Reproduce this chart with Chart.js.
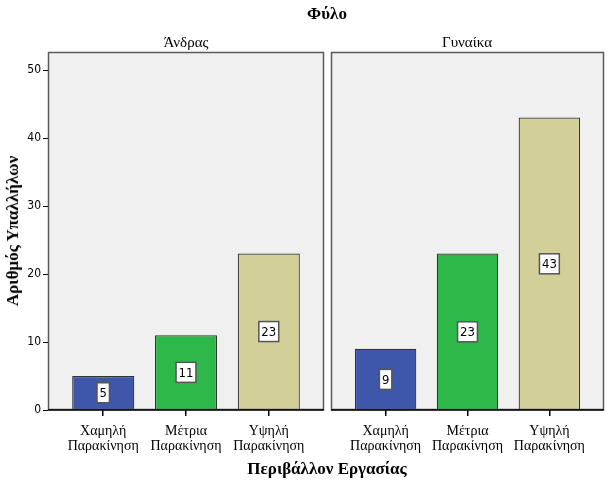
<!DOCTYPE html>
<html><head><meta charset="utf-8">
<script src="https://cdn.jsdelivr.net/npm/chart.js@4.4.0/dist/chart.umd.min.js"></script>
<style>
html,body{margin:0;padding:0;background:#fff;}
#wrap{position:relative;width:614px;height:486px;overflow:hidden;font-family:"Liberation Serif","Times New Roman",serif;color:#000;}
.t{position:absolute;white-space:nowrap;transform:translate(-50%,-50%);}
canvas{position:absolute;top:0;}
</style></head>
<body><div id="wrap">
<canvas id="c1" width="326" height="486" style="left:0;width:326px;height:486px"></canvas>
<canvas id="c2" width="285" height="486" style="left:329px;width:285px;height:486px"></canvas>
<div class="t" style="left:327px;top:14px;font-weight:bold;font-size:17px">Φύλο</div>
<div class="t" style="left:186px;top:42px;font-size:15px">Άνδρας</div>
<div class="t" style="left:467px;top:42px;font-size:15px">Γυναίκα</div>
<div class="t" style="left:327px;top:469px;font-weight:bold;font-size:17px">Περιβάλλον Εργασίας</div>
<div class="t" style="left:13px;top:231px;font-weight:bold;font-size:17px;transform:translate(-50%,-50%) rotate(-90deg)">Αριθμός Υπαλλήλων</div>
</div>
<script>
const categories = [["Χαμηλή","Παρακίνηση"],["Μέτρια","Παρακίνηση"],["Υψηλή","Παρακίνηση"]];
const panels = ["Άνδρας","Γυναίκα"];
const valuesMen = [5, 11, 23];
const valuesWomen = [9, 23, 43];
const yTicks = [0, 10, 20, 30, 40, 50];
const barColors = ["#3e57ab", "#2fb84a", "#d3cf98"];

const panelPlugin = {
  id: 'panel',
  beforeDraw(chart) {
    const a = chart.chartArea, ctx = chart.ctx;
    ctx.save();
    ctx.fillStyle = '#f0f0f0';
    ctx.fillRect(a.left, a.top, a.right - a.left, a.bottom - a.top);
    ctx.restore();
  },
  afterDraw(chart) {
    const a = chart.chartArea, ctx = chart.ctx;
    ctx.save();
    ctx.strokeStyle = '#5a5a5a';
    ctx.lineWidth = 1.5;
    ctx.strokeRect(a.left + 0.5, a.top + 0.5, a.right - a.left - 1, a.bottom - a.top - 1);
    ctx.strokeStyle = '#000';
    ctx.lineWidth = 1.5;
    ctx.beginPath();
    ctx.moveTo(a.left, a.bottom);
    ctx.lineTo(a.right, a.bottom);
    ctx.stroke();
    ctx.restore();
  },
  afterDatasetsDraw(chart) {
    const ctx = chart.ctx;
    const meta = chart.getDatasetMeta(0);
    const ds = chart.data.datasets[0];
    ctx.save();
    ctx.font = '13px "Liberation Sans Narrow","DejaVu Sans Condensed",sans-serif';
    ctx.textAlign = 'center';
    ctx.textBaseline = 'middle';
    meta.data.forEach((bar, i) => {
      const txt = String(ds.data[i].y);
      const cy = (bar.y + bar.base) / 2;
      const w = ctx.measureText(txt).width + 5;
      const h = 20;
      ctx.fillStyle = '#fff';
      ctx.fillRect(bar.x - w / 2, cy - h / 2, w, h);
      ctx.strokeStyle = '#555';
      ctx.lineWidth = 1.5;
      ctx.strokeRect(bar.x - w / 2, cy - h / 2, w, h);
      ctx.fillStyle = '#000';
      ctx.fillText(txt, bar.x, cy + 1);
    });
    ctx.restore();
  }
};

function makeChart(id, values, showY) {
  const data = values.map((v, i) => ({x: i, y: v}));
  return new Chart(document.getElementById(id), {
    type: 'bar',
    data: {
      datasets: [{
        data: data,
        backgroundColor: barColors,
        borderColor: '#333',
        borderWidth: 1.2,
        barPercentage: 0.75,
        categoryPercentage: 1
      }]
    },
    options: {
      responsive: false,
      animation: false,
      events: [],
      layout: {padding: {top: 52, right: showY ? 2 : 10, left: showY ? 0 : 2, bottom: 0}},
      plugins: {legend: {display: false}, tooltip: {enabled: false}},
      scales: {
        x: {
          type: 'linear',
          offset: false,
          min: -0.667,
          max: 2.667,
          afterBuildTicks(s) { s.ticks = categories.map((c, i) => ({value: i})); },
          afterFit(s) { s.height = 76; },
          grid: {display: true, offset: false, drawOnChartArea: false, color: '#000', tickLength: 6, lineWidth: 1.5},
          border: {display: false},
          ticks: {
            autoSkip: false,
            maxRotation: 0,
            padding: 8,
            color: '#000',
            font: {family: '"Liberation Serif","Times New Roman",serif', size: 14, lineHeight: 1.05},
            callback: (v) => categories[v]
          }
        },
        y: {
          display: showY,
          min: 0,
          max: 52.65,
          afterBuildTicks(s) { s.ticks = yTicks.map(v => ({value: v})); },
          afterFit(s) { s.width = showY ? 48 : 0; },
          grid: {display: true, drawOnChartArea: false, color: '#000', tickLength: 5, lineWidth: 1},
          border: {display: false},
          ticks: {
            padding: 2,
            color: '#000',
            font: {family: '"Liberation Sans Narrow","DejaVu Sans Condensed",sans-serif', size: 12}
          }
        }
      }
    },
    plugins: [panelPlugin]
  });
}
makeChart('c1', valuesMen, true);
makeChart('c2', valuesWomen, false);
</script>
</body></html>
